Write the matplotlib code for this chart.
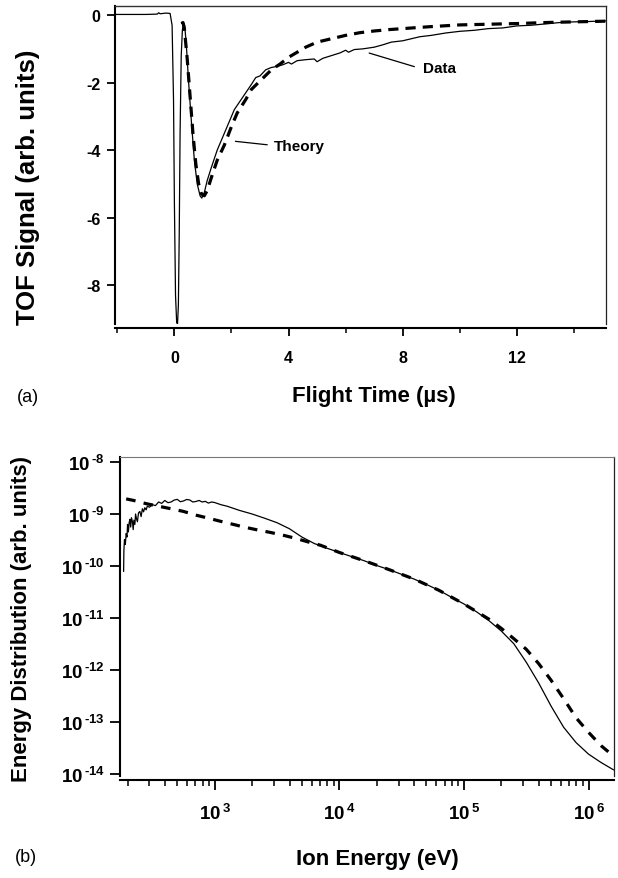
import matplotlib
matplotlib.use("Agg")
import matplotlib.pyplot as plt
from matplotlib.ticker import FixedLocator, FixedFormatter, LogLocator, NullFormatter, NullLocator
import numpy as np

# ---------------- data ----------------
# (a) time-of-flight signal
tof_data_t = [-2.05, -1.0, -0.6, -0.55, -0.5, -0.3, -0.15, -0.08, -0.03, 0.0, 0.04, 0.08, 0.11,
              0.14, 0.17, 0.2, 0.24, 0.28, 0.32, 0.36, 0.42, 0.5, 0.6, 0.7, 0.8, 0.9, 0.96,
              1.05, 1.15, 1.3, 1.5, 1.7, 1.9, 2.1, 2.3, 2.5, 2.7, 2.85, 3.0, 3.2, 3.4, 3.6,
              3.8, 4.0, 4.1, 4.3, 4.6, 4.9, 5.0, 5.2, 5.5, 5.8, 6.0, 6.1, 6.3, 6.6, 7.0,
              7.3, 7.6, 8.0, 8.3, 8.6, 9.0, 9.5, 10.0, 10.5, 11.0, 11.5, 12.0, 12.5, 13.0,
              13.5, 14.0, 14.5, 15.1]
tof_data_v = [0.02, 0.02, 0.03, 0.07, 0.04, 0.06, 0.05, -0.3, -2.5, -5.5, -8.3, -9.1, -9.15,
              -8.6, -6.5, -3.5, -1.2, -0.45, -0.22, -0.3, -0.9, -2.0, -3.2, -4.3, -5.0, -5.35, -5.42,
              -5.25, -4.9, -4.5, -4.0, -3.6, -3.2, -2.8, -2.55, -2.3, -2.05, -1.85, -1.8, -1.62, -1.55, -1.52,
              -1.47, -1.4, -1.45, -1.35, -1.32, -1.3, -1.38, -1.28, -1.2, -1.12, -1.04, -1.1, -1.02, -1.0, -0.95,
              -0.88, -0.8, -0.76, -0.7, -0.64, -0.6, -0.53, -0.48, -0.45, -0.4, -0.38, -0.32, -0.3, -0.26,
              -0.22, -0.2, -0.19, -0.17]

tof_theory_t = [0.25, 0.3, 0.35, 0.45, 0.55, 0.65, 0.75, 0.85, 0.95, 1.05, 1.15, 1.3, 1.5, 1.75,
                2.0, 2.2, 2.5, 2.7, 3.0, 3.4, 3.7, 4.0, 4.3, 4.6, 5.0, 5.5, 6.0, 6.5, 7.0, 7.5,
                8.0, 9.0, 10.0, 11.0, 12.0, 13.0, 14.0, 15.1]
tof_theory_v = [-0.25, -0.22, -0.4, -1.3, -2.4, -3.5, -4.4, -5.0, -5.3, -5.35, -5.2, -4.8, -4.3, -3.85,
                -3.3, -2.9, -2.5, -2.2, -1.95, -1.62, -1.45, -1.25, -1.1, -0.95, -0.8, -0.7, -0.6, -0.52,
                -0.47, -0.43, -0.4, -0.34, -0.29, -0.27, -0.25, -0.22, -0.2, -0.18]

# (b) ion energy distribution
ed_data_E = [186, 187, 189, 192, 195, 198, 200, 203, 206, 209, 212, 215, 219, 222, 225, 229,
             232, 236, 240, 245, 251, 257, 263, 269, 275, 282, 288, 300, 316, 335, 355, 376,
             398, 422, 447, 473, 501, 531, 562, 596, 631, 668, 708, 750, 794, 841, 891, 944,
             1000, 1122, 1259, 1585, 1995,
             2512, 3162, 3981, 5012, 6310, 7943, 10000, 12589, 15849, 19953, 25119, 31623,
             39811, 50119, 63096, 79433, 100000, 125893, 158489, 199526, 251189, 316228,
             398107, 501187, 630957, 794328, 1000000, 1258925, 1584893]
ed_data_D = [7.9e-11, 2.0e-10, 3.2e-10, 2.6e-10, 4.2e-10, 3.6e-10, 6.3e-10, 4.5e-10, 6.8e-10,
             7.9e-10, 5.6e-10, 8.5e-10, 7.1e-10, 5.0e-10, 7.6e-10, 6.3e-10, 1.0e-9, 8.1e-10,
             7.1e-10, 1.05e-9, 1.12e-9, 8.9e-10, 1.26e-9, 1.1e-9, 1.32e-9, 1.2e-9, 1.41e-9,
             1.35e-9, 1.51e-9, 1.45e-9, 1.70e-9, 1.6e-9, 1.82e-9, 1.65e-9, 1.70e-9, 1.85e-9,
             1.91e-9, 1.72e-9, 1.78e-9, 1.9e-9, 1.86e-9, 1.7e-9, 1.74e-9, 1.82e-9, 1.70e-9,
             1.75e-9, 1.62e-9, 1.7e-9, 1.66e-9,
             1.51e-9, 1.41e-9, 1.17e-9, 1.0e-9, 8.3e-10, 6.8e-10, 5.2e-10, 3.6e-10, 2.7e-10,
             2.2e-10, 1.82e-10, 1.51e-10, 1.26e-10, 1.02e-10, 8.5e-11, 6.9e-11, 5.6e-11, 4.4e-11,
             3.4e-11, 2.5e-11, 1.86e-11, 1.32e-11, 8.9e-12, 5.6e-12, 3.2e-12, 1.41e-12, 5.6e-13,
             2.0e-13, 7.9e-14, 4.0e-14, 2.4e-14, 1.66e-14, 1.2e-14]

ed_theory_E = [195, 224, 282, 355, 447, 562, 708, 891, 1122, 1413, 1778, 2239, 2818, 3548,
               4467, 5623, 7079, 10000, 15849, 25119, 39811, 63096, 100000, 158489, 199526,
               251189, 316228, 398107, 501187, 630957, 794328, 1000000, 1258925, 1584893]
ed_theory_D = [1.95e-9, 1.82e-9, 1.58e-9, 1.41e-9, 1.26e-9, 1.12e-9, 9.5e-10, 8.3e-10,
               7.2e-10, 6.3e-10, 5.5e-10, 4.9e-10, 4.4e-10, 3.9e-10, 3.4e-10, 2.9e-10,
               2.5e-10, 1.82e-10, 1.26e-10, 8.5e-11, 5.6e-11, 3.4e-11, 1.86e-11, 9.5e-12,
               6.3e-12, 4.0e-12, 2.5e-12, 1.32e-12, 6.3e-13, 2.8e-13, 1.2e-13, 6.3e-14,
               3.5e-14, 2.2e-14]

tof_xticks = [0, 4, 8, 12]
tof_yticks = [0, -2, -4, -6, -8]
ed_xticks = [1e3, 1e4, 1e5, 1e6]
ed_yticks = [1e-8, 1e-9, 1e-10, 1e-11, 1e-12, 1e-13, 1e-14]

# ---------------- fonts ----------------
FONT = ["Liberation Sans", "DejaVu Sans"]
plt.rcParams["font.family"] = FONT
plt.rcParams["mathtext.fontset"] = "custom"
plt.rcParams["mathtext.rm"] = "Liberation Sans"
plt.rcParams["mathtext.bf"] = "Liberation Sans:bold"

W, H = 618, 879
fig = plt.figure(figsize=(W / 100, H / 100), dpi=100)


def box(l, t, r, b):
    return [l / W, 1 - b / H, (r - l) / W, (b - t) / H]


def style_axes(ax):
    ax.spines["top"].set_linewidth(1.0)
    ax.spines["top"].set_color("#333333")
    ax.spines["right"].set_linewidth(0.9)
    ax.spines["right"].set_color("#222222")
    for s in ("left", "bottom"):
        ax.spines[s].set_linewidth(1.5)
        ax.spines[s].set_color("black")
    ax.spines["bottom"].set_position(("outward", 3))
    ax.tick_params(which="both", direction="out", top=False, right=False, color="black")


def pow_label(v):
    e = int(round(np.log10(v)))
    s = str(e).replace("-", "\u2010")
    return r"$\mathbf{10}^{\,\mathbf{%s}}$" % s


# ---------------- (a) ----------------
ax1 = fig.add_axes(box(115, 7, 606, 325))
ax1.plot(tof_data_t, tof_data_v, color="black", lw=0.9)
ax1.plot(tof_theory_t, tof_theory_v, color="black", lw=2.3, dashes=(3.2, 2.2))
ax1.set_xlim(-2.08, 15.12)
ax1.set_ylim(-9.15, 0.27)
style_axes(ax1)
ax1.xaxis.set_major_locator(FixedLocator(tof_xticks))
ax1.xaxis.set_minor_locator(FixedLocator([-2, 2, 6, 10, 14]))
ax1.yaxis.set_major_locator(FixedLocator(tof_yticks))
ax1.yaxis.set_major_formatter(FixedFormatter([str(v) for v in tof_yticks]))
ax1.tick_params(axis="both", which="major", length=5.5, width=1.3, labelsize=11.5)
ax1.tick_params(axis="x", which="major", pad=10)
ax1.tick_params(axis="y", which="major", pad=5)
ax1.tick_params(axis="x", which="minor", length=3.5, width=1.1)
for lab in ax1.get_xticklabels() + ax1.get_yticklabels():
    lab.set_fontweight("bold")

ax1.annotate("", xy=(6.73, -1.1), xytext=(8.5, -1.55),
             arrowprops=dict(arrowstyle="-", color="black", lw=0.9))
ax1.text(8.72, -1.58, "Data", fontsize=11, fontweight="bold", va="center", ha="left")
ax1.annotate("", xy=(2.04, -3.73), xytext=(3.35, -3.85),
             arrowprops=dict(arrowstyle="-", color="black", lw=0.9))
ax1.text(3.49, -3.88, "Theory", fontsize=11, fontweight="bold", va="center", ha="left")

fig.text(28 / W, 1 - 187 / H, "TOF Signal (arb. units)", rotation=90, fontsize=18.5,
         fontweight="bold", ha="center", va="center")
fig.text(374 / W, 1 - 397 / H, "Flight Time (\u00b5s)", fontsize=16, fontweight="bold",
         ha="center", va="center")
fig.text(17 / W, 1 - 398 / H, "(a)", fontsize=13, ha="left", va="center")

# ---------------- (b) ----------------
ax2 = fig.add_axes(box(120, 458, 614, 777))
ax2.plot(ed_data_E, ed_data_D, color="black", lw=0.9)
ax2.plot(ed_theory_E, ed_theory_D, color="black", lw=2.3, dashes=(3.0, 2.6))
ax2.set_xscale("log")
ax2.set_yscale("log")
ax2.set_xlim(174, 1.6e6)
ax2.set_ylim(10 ** -14.04, 10 ** -7.904)
style_axes(ax2)
ax2.spines["top"].set_color("#777777")
ax2.spines["top"].set_linewidth(0.8)
ax2.xaxis.set_major_locator(FixedLocator(ed_xticks))
ax2.xaxis.set_major_formatter(FixedFormatter([pow_label(v) for v in ed_xticks]))
ax2.xaxis.set_minor_locator(LogLocator(base=10, subs=np.arange(2, 10), numticks=20))
ax2.xaxis.set_minor_formatter(NullFormatter())
ax2.yaxis.set_major_locator(FixedLocator(ed_yticks))
ax2.yaxis.set_major_formatter(FixedFormatter([pow_label(v) for v in ed_yticks]))
ax2.yaxis.set_minor_locator(NullLocator())
ax2.tick_params(axis="both", which="major", length=7, width=1.3, labelsize=13.5)
ax2.tick_params(axis="y", which="major", pad=4)
ax2.tick_params(axis="x", which="major", pad=9)
ax2.tick_params(axis="x", which="minor", length=4, width=1.1)

fig.text(22 / W, 1 - 619 / H, "Energy Distribution (arb. units)", rotation=90, fontsize=16,
         fontweight="bold", ha="center", va="center")
fig.text(377 / W, 1 - 860 / H, "Ion Energy (eV)", fontsize=16, fontweight="bold",
         ha="center", va="center")
fig.text(15 / W, 1 - 858 / H, "(b)", fontsize=13, ha="left", va="center")

fig.savefig("out.png", dpi=100)
